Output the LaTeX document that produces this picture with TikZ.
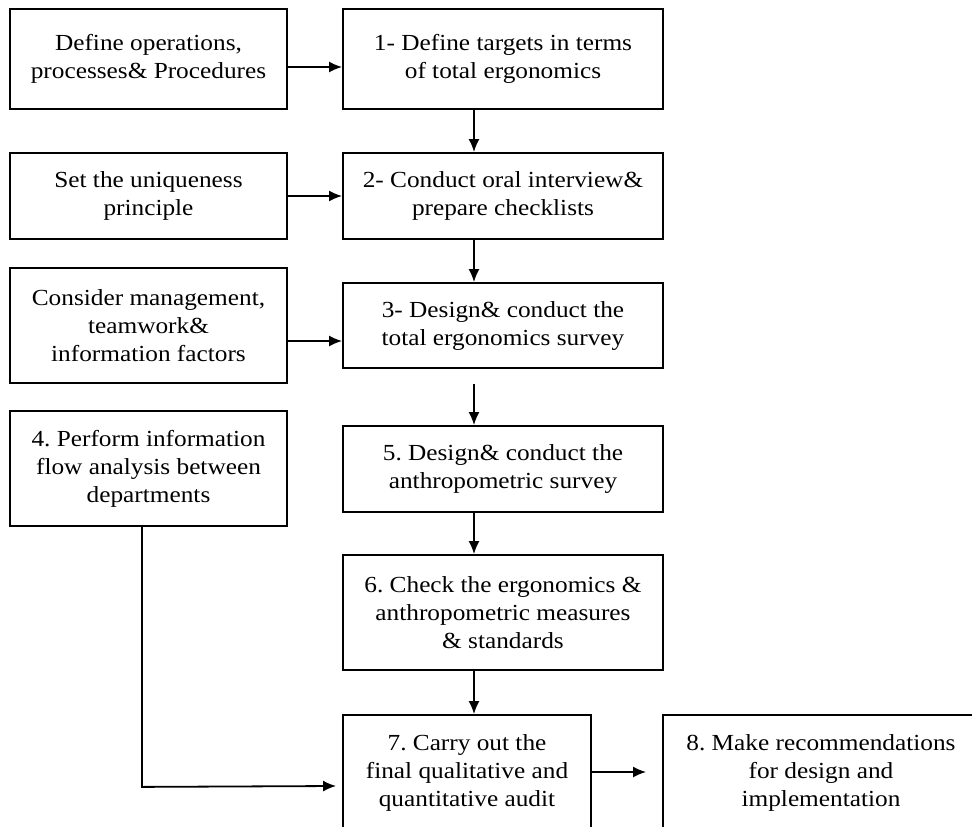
\documentclass[tikz,border=0pt]{standalone}
\usepackage{fontspec}
\setmainfont[FakeStretch=1.1]{Liberation Serif}
\usetikzlibrary{arrows.meta,calc}
\frenchspacing
\tikzset{
  box/.style={draw=black, line width=1.8pt, align=center, inner sep=2pt,
    font=\fontsize{23}{28}\selectfont\frenchspacing},
  arr/.style={draw=black, line width=1.8pt, -{Latex[length=13pt,width=11pt]}}
}
\begin{document}
\begin{tikzpicture}[x=1pt,y=-1pt]
\useasboundingbox[fill=white] (0,0) rectangle (972,827);
\begin{scope}
\clip (0,0) rectangle (972,827);
\node[box, minimum width=277pt, minimum height=100pt] (A) at (148.5,59) {Define operations,\\processes\& Procedures};
\node[box, minimum width=320pt, minimum height=100pt] (s1) at (503,59) {1- Define targets in terms\\of total ergonomics};
\node[box, minimum width=277pt, minimum height=86pt] (B) at (148.5,196) {Set the uniqueness\\principle};
\node[box, minimum width=320pt, minimum height=86pt] (s2) at (503,196) {2- Conduct oral interview\&\\prepare checklists};
\node[box, minimum width=277pt, minimum height=115pt] (C) at (148.5,325.5) {Consider management,\\teamwork\&\\information factors};
\node[box, minimum width=320pt, minimum height=85pt] (s3) at (503,325.5) {3- Design\& conduct the\\total ergonomics survey};
\node[box, minimum width=277pt, minimum height=115pt] (s4) at (148.5,468.5) {4. Perform information\\flow analysis between\\departments};
\node[box, minimum width=320pt, minimum height=86pt] (s5) at (503,469) {5. Design\& conduct the\\anthropometric survey};
\node[box, minimum width=320pt, minimum height=115pt] (s6) at (503,612.5) {6. Check the ergonomics \&\\anthropometric measures\\\& standards};
\node[box, minimum width=248pt, minimum height=116pt] (s7) at (467,773) {7. Carry out the\\final qualitative and\\quantitative audit};
\node[box, minimum width=316pt, minimum height=116pt] (s8) at (821,773) {8. Make recommendations\\for design and\\implementation};
\end{scope}
\draw[arr] ($(A.east)+(0,8)$) -- ($(s1.west)+(0,8)$);
\draw[arr] (B.east) -- (s2.west);
\draw[arr] ($(C.east)+(0,15.5)$) -- ($(s3.west)+(0,15.5)$);
\draw[arr] ($(s1.south)+(-29,0)$) -- ($(s2.north)+(-29,0)$);
\draw[arr] ($(s2.south)+(-29,0)$) -- ($(s3.north)+(-29,0)$);
\draw[arr] ($(s3.south)+(-29,15)$) -- ($(s5.north)+(-29,0)$);
\draw[arr] ($(s5.south)+(-29,0)$) -- ($(s6.north)+(-29,0)$);
\draw[arr] ($(s6.south)+(-29,0)$) -- ($(s7.north)+(7,0)$);
\coordinate (bend) at ($(s4.south)+(-6.5,260)$);
\draw[arr] ($(s4.south)+(-6.5,0)$) -- (bend) -- ($(s7.west)+(-6,13)$);
\draw[arr, shorten >=16pt] ($(s7.east)+(0,-1)$) -- ($(s8.west)+(0,-1)$);
\end{tikzpicture}
\end{document}
